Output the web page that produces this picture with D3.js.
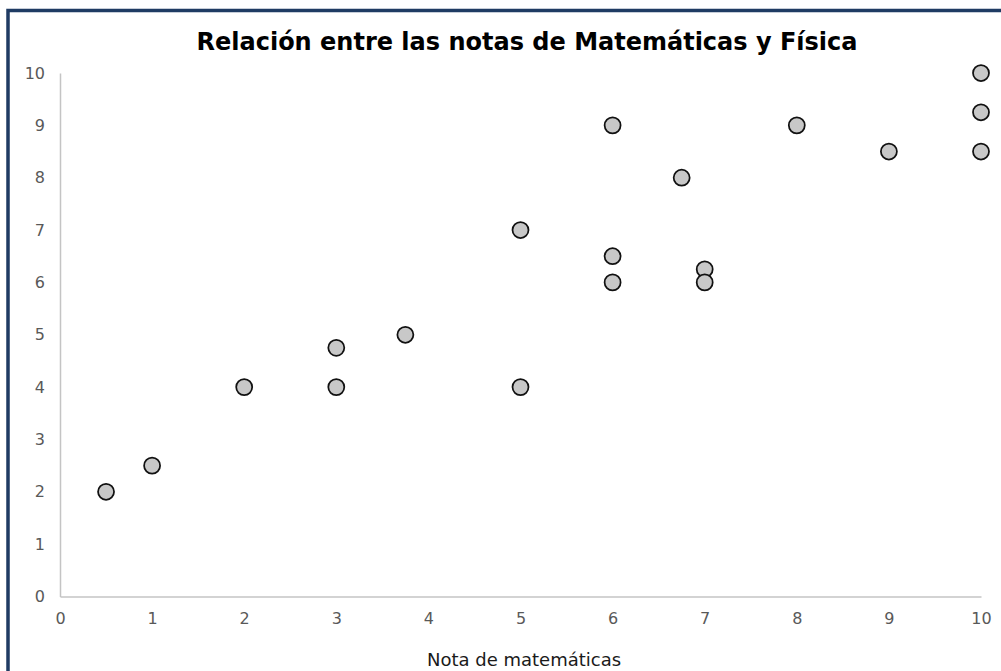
<!DOCTYPE html>
<html>
<head>
<meta charset="utf-8">
<script src="https://cdn.jsdelivr.net/npm/d3@7"></script>
<style>
  html, body { margin: 0; padding: 0; background: #fff; }
  svg { display: block; }
</style>
</head>
<body>
<svg id="chart" width="1001" height="671"></svg>
<script>
const titleText = "Relación entre las notas de Matemáticas y Física";
const xAxisTitle = "Nota de matemáticas";
const xTicks = [0, 1, 2, 3, 4, 5, 6, 7, 8, 9, 10];
const yTicks = [0, 1, 2, 3, 4, 5, 6, 7, 8, 9, 10];
const mathGrades = [0.5, 1, 2, 3, 3, 3.75, 5, 5, 6, 6, 6, 6.75, 7, 7, 8, 9, 10, 10, 10];
const physicsGrades = [2, 2.5, 4, 4.75, 4, 5, 7, 4, 9, 6.5, 6, 8, 6.25, 6, 9, 8.5, 10, 9.25, 8.5];

const svg = d3.select("#chart");
const W = 1001, H = 671;

// outer border
svg.append("rect")
  .attr("x", 8).attr("y", 10.5)
  .attr("width", W + 20).attr("height", H + 20)
  .attr("fill", "#fff")
  .attr("stroke", "#1f3b63").attr("stroke-width", 3.5);

const x = d3.scaleLinear().domain([0, 10]).range([60, 981]);
const y = d3.scaleLinear().domain([0, 10]).range([596.5, 73]);

const font = "Verdana, 'DejaVu Sans', sans-serif";

// title
svg.append("text")
  .attr("x", 527).attr("y", 50)
  .attr("text-anchor", "middle")
  .attr("font-family", font)
  .attr("font-weight", "bold")
  .attr("font-size", 24)
  .attr("fill", "#000")
  .text(titleText);

// axes
const xAxis = d3.axisBottom(x).tickValues(xTicks).tickSize(0).tickPadding(16).tickFormat(d3.format("d"));
const yAxis = d3.axisLeft(y).tickValues(yTicks).tickSize(0).tickPadding(15).tickFormat(d3.format("d"));

const gx = svg.append("g").attr("transform", `translate(0,${y(0)})`).call(xAxis);
const gy = svg.append("g").attr("transform", `translate(${x(0)},0)`).call(yAxis);

[gx, gy].forEach(g => {
  g.select(".domain").attr("stroke", "#c4c4c4").attr("stroke-width", 1.5);
  g.selectAll("text")
    .attr("font-family", font)
    .attr("font-size", 16)
    .attr("fill", "#595959");
});

// x axis title
svg.append("text")
  .attr("x", 524).attr("y", 666)
  .attr("text-anchor", "middle")
  .attr("font-family", font)
  .attr("font-size", 18)
  .attr("fill", "#1a1a1a")
  .text(xAxisTitle);

// points
svg.append("g")
  .selectAll("circle")
  .data(mathGrades.map((m, i) => [m, physicsGrades[i]]))
  .join("circle")
  .attr("cx", d => x(d[0]))
  .attr("cy", d => y(d[1]))
  .attr("r", 8)
  .attr("fill", "#c8c8c8")
  .attr("stroke", "#111")
  .attr("stroke-width", 1.75);
</script>
</body>
</html>
